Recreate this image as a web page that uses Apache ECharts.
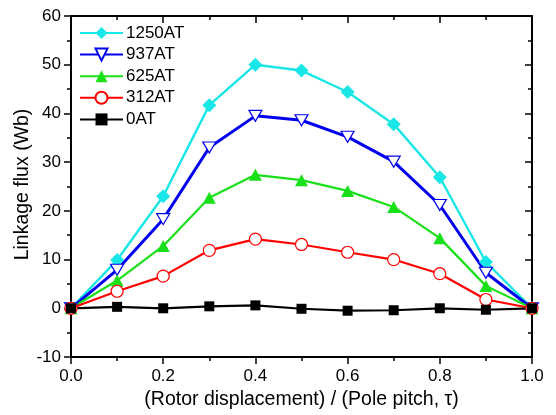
<!DOCTYPE html>
<html>
<head>
<meta charset="utf-8">
<script src="https://cdn.jsdelivr.net/npm/echarts@6/dist/echarts.min.js"></script>
<style>
  html, body { margin: 0; padding: 0; background: #fff; }
  #chart { width: 556px; height: 415px; }
</style>
</head>
<body>
<div id="chart"></div>
<script>
// Rotor displacement normalised by pole pitch
const displacement = [0.0, 0.1, 0.2, 0.3, 0.4, 0.5, 0.6, 0.7, 0.8, 0.9, 1.0];

// Linkage flux (Wb) for each excitation level
const flux1250 = [0, 9.9, 23.0, 41.7, 50.0, 48.8, 44.4, 37.8, 26.9, 9.5, 0];
const flux937  = [0, 7.9, 18.3, 33.0, 39.5, 38.6, 35.2, 30.1, 21.2, 7.3, 0];
const flux625  = [0, 5.7, 12.8, 22.7, 27.4, 26.3, 24.1, 20.8, 14.4, 4.6, 0];
const flux312  = [0, 3.5, 6.6, 11.9, 14.2, 13.1, 11.5, 10.0, 7.1, 1.8, 0];
const flux0    = [0, 0.3, 0.0, 0.4, 0.6, -0.1, -0.5, -0.4, 0.0, -0.3, 0];

const legendNames = ['1250AT', '937AT', '625AT', '312AT', '0AT'];

const font = 'Arial, "Liberation Sans", sans-serif';

function pairs(ys) {
  return displacement.map((x, i) => [x, ys[i]]);
}

function line(name, ys, color, symbol, size, filled, width) {
  return {
    name: name,
    type: 'line',
    data: pairs(ys),
    symbol: symbol,
    symbolSize: size,
    showAllSymbol: true,
    z: 3,
    lineStyle: { color: color, width: width },
    itemStyle: filled
      ? { color: color, borderColor: color, borderWidth: 0 }
      : { color: '#ffffff', borderColor: color, borderWidth: 1.2 },
    emphasis: { disabled: true },
    animation: false
  };
}

const series = [
  line('1250AT', flux1250, '#19E6E6', 'diamond', 14, true, 2.4),
  line('937AT', flux937, '#0000EE', 'path://M0,0 L10,0 L5,8 Z', [13, 11], false, 3),
  line('625AT', flux625, '#19E019', 'triangle', [13, 12], true, 2.2),
  line('312AT', flux312, '#FF0000', 'circle', 12, false, 2.2),
  line('0AT', flux0, '#000000', 'rect', 10, true, 2.2)
];

function axisStyle(extra) {
  return Object.assign({
    type: 'value',
    axisLine: { show: true, onZero: false, lineStyle: { color: '#000', width: 2 } },
    axisTick: { show: true, length: 7, lineStyle: { color: '#000', width: 1.5 } },
    minorTick: { show: true, splitNumber: 2, length: 4, lineStyle: { color: '#000', width: 1.5 } },
    splitLine: { show: false }
  }, extra);
}

const chart = echarts.init(document.getElementById('chart'), null, { renderer: 'canvas' });

chart.setOption({
  backgroundColor: '#ffffff',
  animation: false,
  grid: { left: 71, right: 24, top: 16, bottom: 58, containLabel: false },
  legend: {
    left: 79, top: 24.5, orient: 'vertical', padding: 0,
    itemWidth: 43, itemHeight: 15, itemGap: 4.6,
    textStyle: { fontFamily: font, fontSize: 17, color: '#000', padding: [0, 0, 0, -2] },
    data: legendNames
  },
  xAxis: [
    axisStyle({
      min: 0, max: 1, interval: 0.2,
      name: '(Rotor displacement) / (Pole pitch, \u03c4)',
      nameLocation: 'middle', nameGap: 32,
      nameTextStyle: { fontFamily: font, fontSize: 19.5, color: '#000' },
      axisLabel: { fontFamily: font, fontSize: 17, color: '#000', margin: 11,
        formatter: v => v.toFixed(1) }
    }),
    axisStyle({
      min: 0, max: 1, interval: 0.2, position: 'top',
      axisTick: { show: true, inside: true, length: 7, lineStyle: { color: '#000', width: 1.5 } },
      minorTick: { show: true, splitNumber: 2, length: 4, lineStyle: { color: '#000', width: 1.5 } },
      axisLabel: { show: false }
    })
  ],
  yAxis: [
    axisStyle({
      min: -10, max: 60, interval: 10,
      name: 'Linkage flux (Wb)',
      nameLocation: 'middle', nameGap: 38, nameRotate: 90,
      nameMoveOverlap: false,
      nameTextStyle: { fontFamily: font, fontSize: 19.5, color: '#000', padding: [0, 0, 0, 4] },
      axisLabel: { fontFamily: font, fontSize: 17, color: '#000', margin: 10 }
    }),
    axisStyle({
      min: -10, max: 60, interval: 10, position: 'right',
      axisTick: { show: true, inside: true, length: 7, lineStyle: { color: '#000', width: 1.5 } },
      minorTick: { show: true, splitNumber: 2, length: 4, lineStyle: { color: '#000', width: 1.5 } },
      axisLabel: { show: false }
    })
  ],
  series: series
});
</script>
</body>
</html>
